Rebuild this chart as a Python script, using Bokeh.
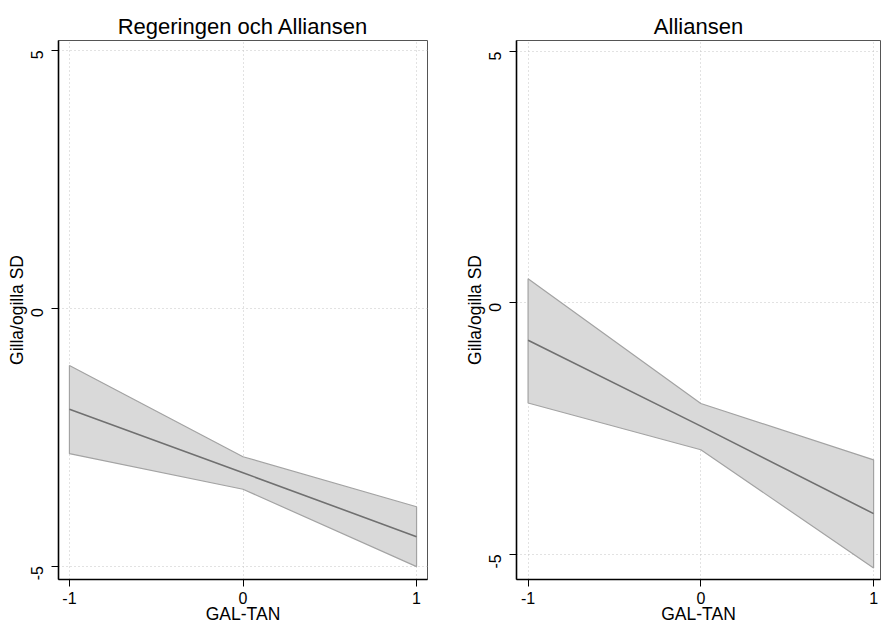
import math
from bokeh.plotting import figure
from bokeh.layouts import row
from bokeh.models import Range1d, FixedTicker
from bokeh.embed import file_html
from bokeh.resources import INLINE

# ---- data ----
x_vals = [-1, 0, 1]
x_ticks = [-1, 0, 1]
x_tick_labels = ["-1", "0", "1"]
y_ticks = [-5, 0, 5]
y_tick_labels = ["-5", "0", "5"]

titles = ["Regeringen och Alliansen", "Alliansen"]
x_label = "GAL-TAN"
y_label = "Gilla/ogilla SD"

left_mean = [-1.96, -3.19, -4.43]
left_upper = [-1.11, -2.88, -3.85]
left_lower = [-2.82, -3.51, -5.01]

right_mean = [-0.74, -2.45, -4.19]
right_upper = [0.48, -2.00, -3.12]
right_lower = [-1.99, -2.92, -5.27]

FONT = "Liberation Sans"


def make_panel(title, mean, upper, lower, xr, yr, width, bl, br):
    p = figure(width=width, height=626, output_backend="svg", toolbar_location=None,
               x_range=Range1d(*xr), y_range=Range1d(*yr),
               min_border_left=bl, min_border_right=br, min_border_top=40, min_border_bottom=46)
    p.title.text = title
    p.title.align = "center"
    p.title.text_font = FONT
    p.title.text_font_size = "22px"
    p.title.text_font_style = "normal"
    p.title.text_color = "black"
    p.title.standoff = 4

    px = list(x_vals) + list(x_vals[::-1])
    py = list(upper) + list(lower[::-1])
    p.patch(px, py, fill_color="#d9d9d9", line_color="#a3a3a3", line_width=1.2)
    p.line(x_vals, mean, line_color="#707070", line_width=1.6)

    p.xaxis.ticker = FixedTicker(ticks=x_ticks)
    p.yaxis.ticker = FixedTicker(ticks=y_ticks)
    p.xaxis.major_label_overrides = {t: s for t, s in zip(x_ticks, x_tick_labels)}
    p.yaxis.major_label_overrides = {t: s for t, s in zip(y_ticks, y_tick_labels)}
    for ax in (p.xaxis[0], p.yaxis[0]):
        ax.axis_line_color = "black"
        ax.axis_line_width = 1.6
        ax.major_tick_line_color = "black"
        ax.major_tick_line_width = 1
        ax.major_tick_out = 7
        ax.major_tick_in = 0
        ax.minor_tick_line_color = None
        ax.major_label_text_font = FONT
        ax.major_label_text_font_size = "16px"
        ax.major_label_text_color = "black"
        ax.axis_label_text_font = FONT
        ax.axis_label_text_font_size = "17.5px"
        ax.axis_label_text_font_style = "normal"
        ax.axis_label_text_color = "black"
    p.xaxis.major_label_standoff = 5
    p.xaxis.axis_label_standoff = -3
    p.yaxis.major_label_standoff = 14
    p.yaxis.axis_label_standoff = -4
    p.xaxis.axis_label = x_label
    p.yaxis.axis_label = y_label
    p.yaxis.major_label_orientation = math.pi / 2

    p.xgrid.ticker = FixedTicker(ticks=x_ticks)
    p.ygrid.ticker = FixedTicker(ticks=y_ticks)
    for g in (p.xgrid[0], p.ygrid[0]):
        g.grid_line_color = "#c4c4c4"
        g.grid_line_dash = "1 3"
        g.grid_line_width = 1

    p.outline_line_color = "#555555"
    p.outline_line_width = 1
    p.background_fill_color = "white"
    p.border_fill_color = "white"
    return p


p1 = make_panel(titles[0], left_mean, left_upper, left_lower,
                (-1.063, 1.063), (-5.26, 5.19), 458, 58, 31)
p2 = make_panel(titles[1], right_mean, right_upper, right_lower,
                (-1.067, 1.04), (-5.5, 5.22), 423, 58, 1)

layout = row(p1, p2)
open("out.html", "w").write(file_html(layout, INLINE))
